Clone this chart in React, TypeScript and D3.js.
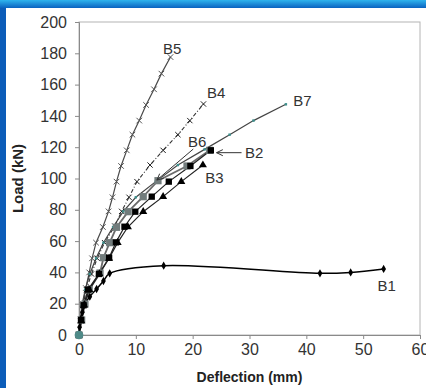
import React, { useEffect, useRef } from "react";
import * as d3 from "d3";

// Deflection (mm) / load (kN) readings per beam.
const b1Defl = [0, 0.1, 0.3, 0.6, 1.0, 1.9, 3.1, 4.3, 5.4, 14.9, 42.4, 47.8, 53.6];
const b1Load = [0, 5, 10, 14.5, 19.5, 24.5, 29.4, 34.5, 39.4, 44.3, 39.4, 40, 42.2];

const b2Defl = [0, 0.35, 0.8, 1.6, 3.5, 5.3, 6.5, 8.0, 9.9, 12.8, 15.8, 19.6, 23.2];
const b2Load = [0, 9.6, 19, 29, 39, 49.4, 59.2, 69.2, 78.8, 88.4, 98, 108, 118];

const b3Defl = [0, 0.4, 0.9, 1.8, 3.6, 5.3, 6.8, 8.6, 11.3, 14.8, 18.0, 21.8];
const b3Load = [0, 9, 19, 29, 39, 49, 59, 69, 78.8, 88.4, 98, 108.6];

const b4Defl = [0, 0.3, 0.7, 1.3, 2.2, 3.2, 4.5, 6.3, 7.5, 8.8, 10.2, 12.5, 14.8, 17.4, 19.5, 21.9];
const b4Load = [0, 9, 19, 29, 39, 49, 59, 69.6, 79, 88, 98, 108.6, 118, 128, 137, 147.6];

const b5Defl = [0, 0.3, 0.7, 1.2, 1.8, 2.3, 3.0, 4.2, 5.2, 5.9, 6.6, 7.4, 8.4, 9.4, 10.6, 11.8, 13.2, 14.5, 16.1];
const b5Load = [0, 10, 20, 30, 40, 49, 59, 69, 79, 88, 98, 108, 118, 128, 137, 147, 157, 167, 177.6];

const b6Defl = [0, 0.47, 1.05, 1.8, 3.7, 4.3, 5.4, 6.6, 8.65, 11.3, 13.9, 19.0, 23.0];
const b6Load = [0, 9.6, 19.8, 29, 39.6, 49.4, 59, 68.8, 78.8, 88.4, 98.6, 108, 118];

const b7Defl = [0, 0.2, 0.5, 1.1, 1.9, 3.0, 4.3, 6.0, 7.8, 10.0, 13.5, 17.4, 22.1, 26.5, 30.7, 36.4];
const b7Load = [0, 9, 19, 29, 39, 49, 59, 69, 79, 88, 98, 108.6, 118.6, 128, 137, 147.4];

const xTicks = [0, 10, 20, 30, 40, 50, 60];
const yTicks = [0, 20, 40, 60, 80, 100, 120, 140, 160, 180, 200];

// Series name labels, placed in data units (deflection, load).
const labelNames = ["B5", "B4", "B7", "B6", "B2", "B3", "B1"];
const labelDefl = [14.8, 22.5, 37.7, 19.2, 29.2, 22.2, 52.5];
const labelLoad = [179.5, 151.4, 146.3, 120.1, 113.1, 97.1, 28.1];

// Pointer arrows: [fromDefl, fromLoad, toDefl, toLoad]
const arrowB6 = [20.1, 118.8, 13.7, 99];
const arrowB2 = [28.6, 116.5, 24.2, 116.5];

const zip = (xs: number[], ys: number[]) => xs.map((x, i) => [x, ys[i]] as [number, number]);

const App = () => {
  const ref = useRef<SVGSVGElement>(null);

  useEffect(() => {
    const width = 426;
    const height = 388;
    const left = 79, right = 420, top = 22, bottom = 335;

    const svg = d3.select(ref.current).attr("width", width).attr("height", height);
    svg.selectAll("*").remove();

    // slide background
    const defs = svg.append("defs");
    const grad = defs.append("linearGradient").attr("id", "topband")
      .attr("x1", 0).attr("y1", 0).attr("x2", 0).attr("y2", 1);
    grad.append("stop").attr("offset", "0%").attr("stop-color", "#2fb4ee");
    grad.append("stop").attr("offset", "100%").attr("stop-color", "#0a62c0");
    svg.append("rect").attr("width", width).attr("height", height).attr("fill", "#0c5db9");
    svg.append("rect").attr("width", width).attr("height", 8).attr("fill", "url(#topband)");
    svg.append("rect").attr("x", 6).attr("y", 8).attr("width", width - 6).attr("height", height - 8)
      .attr("fill", "#ffffff");

    const x = d3.scaleLinear().domain([0, 60]).range([left, right]);
    const y = d3.scaleLinear().domain([0, 200]).range([bottom, top]);

    // plot frame
    svg.append("rect").attr("x", left).attr("y", top)
      .attr("width", right - left).attr("height", bottom - top)
      .attr("fill", "none").attr("stroke", "#b4b4b4").attr("stroke-width", 1);

    const font = "'Liberation Sans', Arial, sans-serif";

    // Y axis
    const yAxis = svg.append("g").attr("transform", `translate(${left},0)`)
      .call(d3.axisLeft(y).tickValues(yTicks).tickSize(4).tickPadding(8));
    yAxis.select(".domain").attr("stroke", "#8a8a8a");
    yAxis.selectAll(".tick line").attr("stroke", "#8a8a8a");
    yAxis.selectAll(".tick text").attr("font-family", font).attr("font-size", 16).attr("fill", "#333");

    // X axis
    const xAxis = svg.append("g").attr("transform", `translate(0,${bottom})`)
      .call(d3.axisBottom(x).tickValues(xTicks).tickSize(4).tickPadding(5));
    xAxis.select(".domain").attr("stroke", "#8a8a8a");
    xAxis.selectAll(".tick line").attr("stroke", "#8a8a8a");
    xAxis.selectAll(".tick text").attr("font-family", font).attr("font-size", 16).attr("fill", "#333");

    // axis titles
    svg.append("text")
      .attr("transform", `translate(23,${(top + bottom) / 2}) rotate(-90)`)
      .attr("text-anchor", "middle").attr("font-family", font).attr("font-weight", "bold")
      .attr("font-size", 15).attr("fill", "#222").text("Load (kN)");
    svg.append("text")
      .attr("x", (left + right) / 2).attr("y", 382)
      .attr("text-anchor", "middle").attr("font-family", font).attr("font-weight", "bold")
      .attr("font-size", 14).attr("fill", "#222").text("Deflection (mm)");

    const line = d3.line<[number, number]>().x(d => x(d[0])).y(d => y(d[1]));
    const smooth = d3.line<[number, number]>().x(d => x(d[0])).y(d => y(d[1]))
      .curve(d3.curveCatmullRom.alpha(0.5));

    const drawLine = (pts: [number, number][], stroke: string, w: number, dash?: string, gen = line) => {
      svg.append("path").datum(pts).attr("fill", "none").attr("stroke", stroke)
        .attr("stroke-width", w).attr("stroke-dasharray", dash || null).attr("d", gen);
    };

    const b1 = zip(b1Defl, b1Load);
    const b2 = zip(b2Defl, b2Load);
    const b3 = zip(b3Defl, b3Load);
    const b4 = zip(b4Defl, b4Load);
    const b5 = zip(b5Defl, b5Load);
    const b6 = zip(b6Defl, b6Load);
    const b7 = zip(b7Defl, b7Load);

    drawLine(b5, "#4a4a4a", 1.2);
    drawLine(b4, "#333", 1.1, "4,2,1,2");
    drawLine(b7, "#444", 1.2);
    drawLine(b6, "#6a6a6a", 1.8);
    drawLine(b2, "#222", 1.2);
    drawLine(b3, "#222", 1.2);
    drawLine(b1, "#000", 1.5, undefined, smooth);

    const markers = (pts: [number, number][], type: d3.SymbolType, size: number, fill: string, stroke?: string) => {
      svg.append("g").selectAll("path").data(pts).join("path")
        .attr("transform", d => `translate(${x(d[0])},${y(d[1])})`)
        .attr("d", d3.symbol().type(type).size(size)())
        .attr("fill", stroke ? "none" : fill)
        .attr("stroke", stroke || "none")
        .attr("stroke-width", stroke ? 1 : 0);
    };

    markers(b5, d3.symbolX, 22, "none", "#555");
    markers(b4, d3.symbolX, 20, "none", "#222");
    markers(b7.slice(1), d3.symbolSquare, 6, "#3d8f8c");
    markers(b6, d3.symbolSquare, 52, "#727c7c");
    markers(b2, d3.symbolSquare, 40, "#000");
    markers(b3, d3.symbolTriangle, 28, "#000");
    markers(b1, d3.symbolDiamond, 20, "#000");
    markers(b7.slice(0, 1), d3.symbolCircle, 60, "#4f8a88");

    // arrows
    const arrow = (a: number[]) => {
      const x1 = x(a[0]), y1 = y(a[1]), x2 = x(a[2]), y2 = y(a[3]);
      const ang = Math.atan2(y2 - y1, x2 - x1);
      const h = 7;
      svg.append("line").attr("x1", x1).attr("y1", y1).attr("x2", x2).attr("y2", y2)
        .attr("stroke", "#333").attr("stroke-width", 1);
      const p = [
        [x2 - h * Math.cos(ang - 0.45), y2 - h * Math.sin(ang - 0.45)],
        [x2, y2],
        [x2 - h * Math.cos(ang + 0.45), y2 - h * Math.sin(ang + 0.45)],
      ];
      svg.append("path").attr("d", `M${p[0]}L${p[1]}L${p[2]}`)
        .attr("fill", "none").attr("stroke", "#333").attr("stroke-width", 1);
    };
    arrow(arrowB6);
    arrow(arrowB2);

    // series labels
    svg.append("g").selectAll("text").data(labelNames).join("text")
      .attr("x", (_, i) => x(labelDefl[i])).attr("y", (_, i) => y(labelLoad[i]))
      .attr("font-family", font).attr("font-size", 15).attr("fill", "#333")
      .text(d => d);
  }, []);

  return <svg ref={ref} style={{ position: "absolute", left: 0, top: 0 }} />;
};

export default App;
